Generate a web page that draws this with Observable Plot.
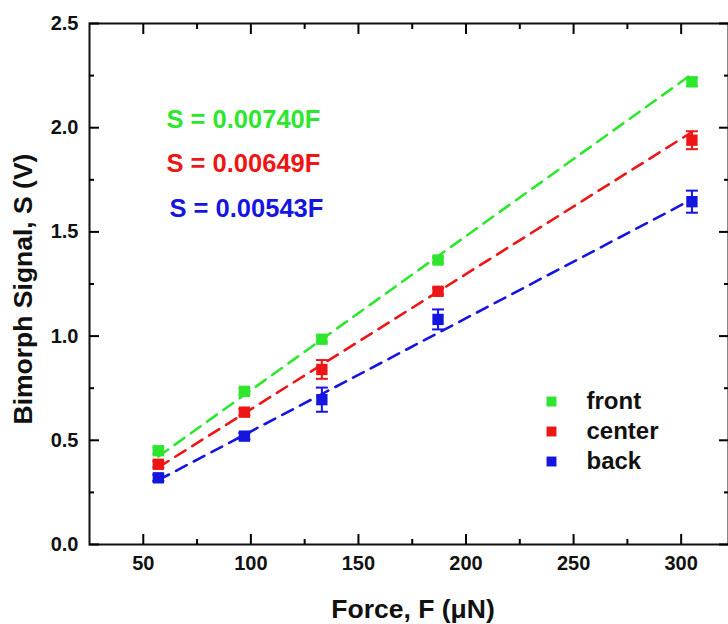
<!DOCTYPE html>
<html>
<head>
<meta charset="utf-8">
<script src="https://cdn.jsdelivr.net/npm/d3@7"></script>
<script src="https://cdn.jsdelivr.net/npm/@observablehq/plot@0.6"></script>
<style>
  html, body { margin: 0; padding: 0; background: #fff; }
  #chart svg { display: block; }
</style>
</head>
<body>
<div id="chart"></div>
<script>
// ---- data ----
const force = [57, 97, 133, 187, 305];
const frontS = [0.45, 0.735, 0.985, 1.365, 2.22];
const frontErr = [0.015, 0.015, 0.015, 0.012, 0.02];
const centerS = [0.385, 0.635, 0.84, 1.215, 1.94];
const centerErr = [0.015, 0.015, 0.045, 0.015, 0.043];
const backS = [0.32, 0.52, 0.695, 1.08, 1.645];
const backErr = [0.015, 0.015, 0.058, 0.048, 0.053];

// fitted lines (S = k F), end points
const fitF = [57, 305];
const frontFit = [0.422, 2.257];
const centerFit = [0.370, 1.979];
const backFit = [0.309, 1.656];

const seriesNames = ["front", "center", "back"];
const seriesColors = ["#2ee62e", "#ee1515", "#1515e0"];
const equations = ["S = 0.00740F", "S = 0.00649F", "S = 0.00543F"];

const xMajor = [50, 100, 150, 200, 250, 300];
const xMinor = [75, 125, 175, 225, 275];
const yMajor = [0, 0.5, 1.0, 1.5, 2.0, 2.5];
const yMinor = [0.25, 0.75, 1.25, 1.75, 2.25];

// ---- build tables ----
const allS = [frontS, centerS, backS];
const allErr = [frontErr, centerErr, backErr];
const allFit = [frontFit, centerFit, backFit];
const points = [];
seriesNames.forEach((s, i) => force.forEach((f, j) => points.push({series: s, F: f, S: allS[i][j], lo: allS[i][j] - allErr[i][j], hi: allS[i][j] + allErr[i][j]})));
const fits = [];
seriesNames.forEach((s, i) => fitF.forEach((f, j) => fits.push({series: s, F: f, S: allFit[i][j]})));

const font = "'Liberation Sans', Arial, sans-serif";
const capSymbol = { draw(ctx, size) { ctx.moveTo(-6, 0); ctx.lineTo(6, 0); } };
const color = {domain: seriesNames, range: seriesColors};

const tickAxes = [];
for (const anchor of ["bottom", "top"]) {
  tickAxes.push(Plot.axisX(xMajor, {anchor, tickSize: -10, tickFormat: () => "", strokeWidth: 2, label: null}));
  tickAxes.push(Plot.axisX(xMinor, {anchor, tickSize: -5, tickFormat: () => "", strokeWidth: 2, label: null}));
}
for (const anchor of ["left", "right"]) {
  tickAxes.push(Plot.axisY(yMajor, {anchor, tickSize: -10, tickFormat: () => "", strokeWidth: 2, label: null}));
  tickAxes.push(Plot.axisY(yMinor, {anchor, tickSize: -5, tickFormat: () => "", strokeWidth: 2, label: null}));
}

const eqMarks = equations.map((t, i) =>
  Plot.text([t], {frameAnchor: "top-left", fill: seriesColors[i], dx: 77 + (i === 2 ? 3 : 0), dy: 96 + i * 44.5,
    fontSize: 25.5, fontWeight: "bold", textAnchor: "start", lineAnchor: "middle"}));

const legendMarks = seriesNames.flatMap((s, i) => [
  Plot.dot([s], {frameAnchor: "top-left", fill: seriesColors[i], symbol: "square", r: 5.6, dx: 462, dy: 378 + i * 30}),
  Plot.text([s], {frameAnchor: "top-left", fontSize: 24, fontWeight: "bold", fill: "#111", textAnchor: "start", lineAnchor: "middle", dx: 497, dy: 378 + i * 30})
]);

const plot = Plot.plot({
  width: 728,
  height: 624,
  marginLeft: 89,
  marginTop: 23,
  marginBottom: 80,
  marginRight: 0,
  style: {fontFamily: font, background: "#fff", color: "#000"},
  x: {domain: [25, 322]},
  y: {domain: [0, 2.5]},
  color,
  marks: [
    // fit lines
    Plot.line(fits, {x: "F", y: "S", z: "series", stroke: "series", strokeWidth: 2.6, strokeDasharray: "12,8"}),
    // error bars
    Plot.ruleX(points, {x: "F", y1: "lo", y2: "hi", stroke: "series", strokeWidth: 2}),
    Plot.dot(points, {x: "F", y: "hi", symbol: capSymbol, stroke: "series", strokeWidth: 2}),
    Plot.dot(points, {x: "F", y: "lo", symbol: capSymbol, stroke: "series", strokeWidth: 2}),
    // markers
    Plot.dot(points, {x: "F", y: "S", symbol: "square", r: 6.4, fill: "series"}),
    // frame
    Plot.frame({stroke: "#111", strokeWidth: 2}),
    ...tickAxes,
    // tick labels
    Plot.axisX(xMajor, {anchor: "bottom", tickSize: 0, tickPadding: 11, tickFormat: d => d, fontSize: 20, fontWeight: "bold", fill: "#111", label: null}),
    Plot.axisY(yMajor, {anchor: "left", tickSize: 0, tickPadding: 11, tickFormat: d3.format(".1f"), fontSize: 20, fontWeight: "bold", fill: "#111", label: null}),
    // axis titles
    Plot.text(["Force, F (μN)"], {frameAnchor: "bottom", dx: 4, dy: 65, fontSize: 26.5, fontWeight: "bold", fill: "#111", textAnchor: "middle", lineAnchor: "middle"}),
    Plot.text(["Bimorph Signal, S (V)"], {frameAnchor: "left", dx: -66, dy: 5, rotate: -90, fontSize: 26.5, fontWeight: "bold", fill: "#111", textAnchor: "middle", lineAnchor: "middle"}),
    ...eqMarks,
    ...legendMarks
  ]
});
document.getElementById("chart").appendChild(plot);
</script>
</body>
</html>
